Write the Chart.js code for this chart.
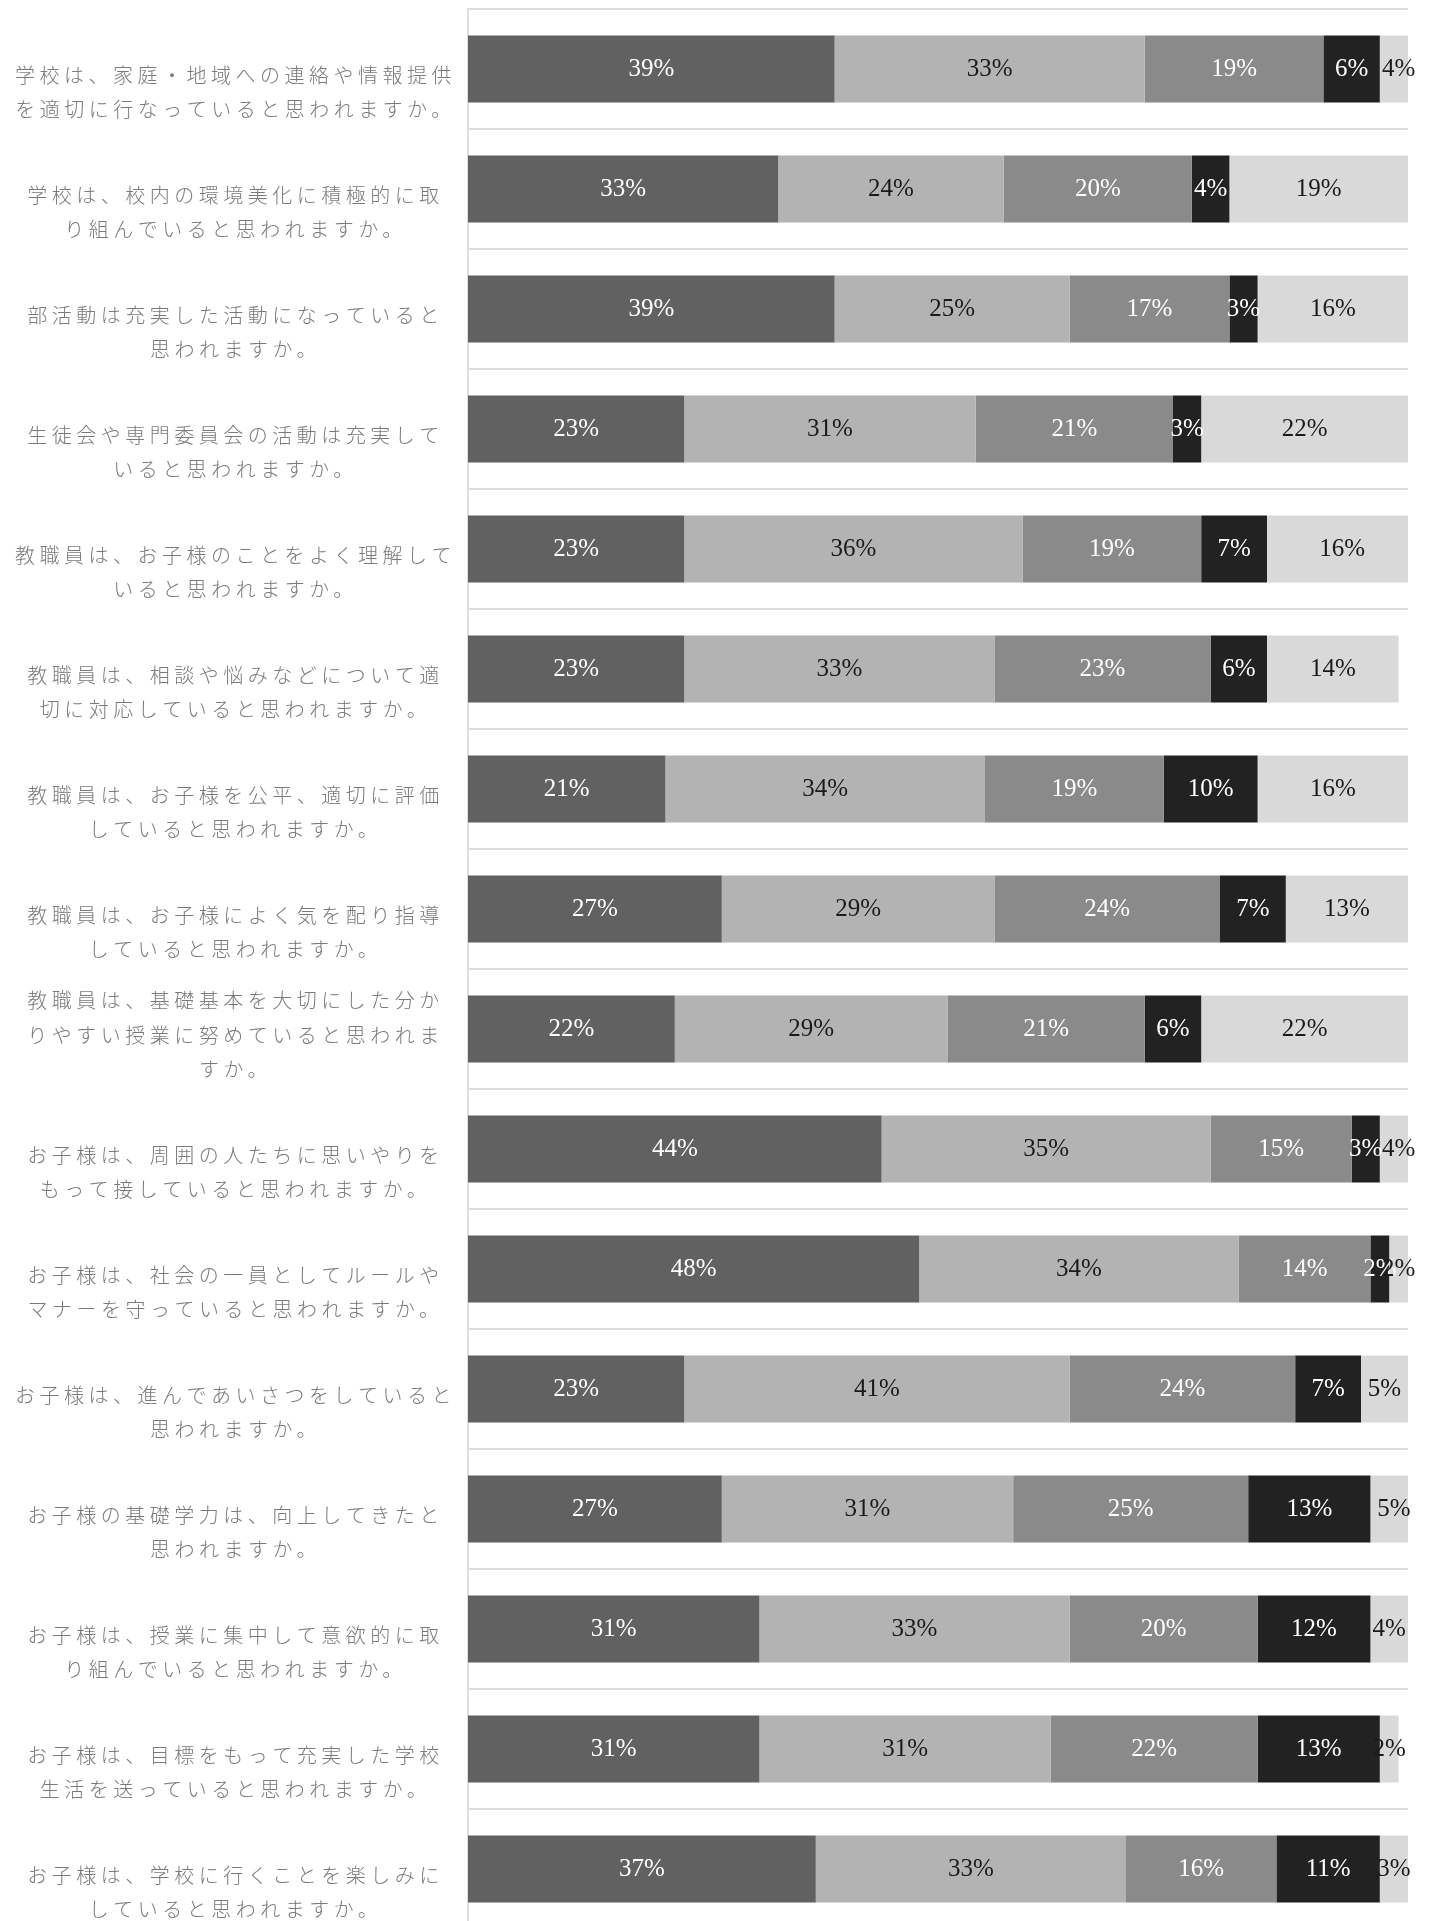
<!DOCTYPE html>
<html lang="ja">
<head>
<meta charset="utf-8">
<title>アンケート結果</title>
<script src="https://cdn.jsdelivr.net/npm/chart.js@4/dist/chart.umd.min.js"></script>
<style>
  html, body { margin: 0; padding: 0; background: #fff; overflow: hidden; }
  #clip { width: 1433px; height: 1921px; overflow: hidden; }
  #wrap { position: relative; width: 1433px; height: 1940px; }
</style>
</head>
<body>
<div id="clip"><div id="wrap"><canvas id="chartSurvey"></canvas></div></div>
<script>
// 設問（改行位置は元の図に合わせる）
const questions = [
  ['学校は、家庭・地域への連絡や情報提供', 'を適切に行なっていると思われますか。'],
  ['学校は、校内の環境美化に積極的に取', 'り組んでいると思われますか。'],
  ['部活動は充実した活動になっていると', '思われますか。'],
  ['生徒会や専門委員会の活動は充実して', 'いると思われますか。'],
  ['教職員は、お子様のことをよく理解して', 'いると思われますか。'],
  ['教職員は、相談や悩みなどについて適', '切に対応していると思われますか。'],
  ['教職員は、お子様を公平、適切に評価', 'していると思われますか。'],
  ['教職員は、お子様によく気を配り指導', 'していると思われますか。'],
  ['教職員は、基礎基本を大切にした分か', 'りやすい授業に努めていると思われま', 'すか。'],
  ['お子様は、周囲の人たちに思いやりを', 'もって接していると思われますか。'],
  ['お子様は、社会の一員としてルールや', 'マナーを守っていると思われますか。'],
  ['お子様は、進んであいさつをしていると', '思われますか。'],
  ['お子様の基礎学力は、向上してきたと', '思われますか。'],
  ['お子様は、授業に集中して意欲的に取', 'り組んでいると思われますか。'],
  ['お子様は、目標をもって充実した学校', '生活を送っていると思われますか。'],
  ['お子様は、学校に行くことを楽しみに', 'していると思われますか。']
];

// 回答の割合（%）
const answer1 = [39, 33, 39, 23, 23, 23, 21, 27, 22, 44, 48, 23, 27, 31, 31, 37];
const answer2 = [33, 24, 25, 31, 36, 33, 34, 29, 29, 35, 34, 41, 31, 33, 31, 33];
const answer3 = [19, 20, 17, 21, 19, 23, 19, 24, 21, 15, 14, 24, 25, 20, 22, 16];
const answer4 = [6, 4, 3, 3, 7, 6, 10, 7, 6, 3, 2, 7, 13, 12, 13, 11];
const answer5 = [4, 19, 16, 22, 16, 14, 16, 13, 22, 4, 2, 5, 5, 4, 2, 3];

const seriesNames = ['回答1', '回答2', '回答3', '回答4', '回答5'];
const barColors  = ['#616161', '#b3b3b3', '#8a8a8a', '#222222', '#d9d9d9'];
const textColors = ['#ffffff', '#1a1a1a', '#ffffff', '#ffffff', '#1a1a1a'];

const $ = (id) => document.getElementById(id);

// 設問ラベルの字間（canvas の letterSpacing）
const spacing = {
  id: 'spacing',
  beforeLayout: (c) => { c.ctx.letterSpacing = '4.5px'; },
  beforeDraw: (c) => { c.ctx.letterSpacing = '4.5px'; }
};

// 棒の中央に % を描く
const pctLabels = {
  id: 'pctLabels',
  afterDatasetsDraw(c) {
    const ctx = c.ctx;
    ctx.save();
    ctx.letterSpacing = '0px';
    ctx.font = '25px "Liberation Serif", "Times New Roman", serif';
    ctx.textAlign = 'center';
    ctx.textBaseline = 'middle';
    c.data.datasets.forEach((ds, di) => {
      ctx.fillStyle = textColors[di];
      c.getDatasetMeta(di).data.forEach((bar, i) => {
        const v = ds.data[i];
        if (!v) return;
        ctx.fillText(v + '%', (bar.x + bar.base) / 2, bar.y);
      });
    });
    ctx.restore();
  }
};

document.addEventListener('DOMContentLoaded', () => {
  const series = [answer1, answer2, answer3, answer4, answer5];
  new Chart($('chartSurvey'), {
    type: 'bar',
    data: {
      labels: questions,
      datasets: series.map((d, i) => ({
        label: seriesNames[i],
        data: d,
        backgroundColor: barColors[i],
        borderWidth: 0,
        categoryPercentage: 1,
        barPercentage: 0.56
      }))
    },
    options: {
      indexAxis: 'y',
      responsive: true,
      maintainAspectRatio: false,
      animation: false,
      events: [],
      layout: { padding: { top: 9, bottom: 11, left: 0, right: 25 } },
      plugins: { legend: { display: false }, tooltip: { enabled: false } },
      scales: {
        x: { stacked: true, min: 0, max: 100, display: false },
        y: {
          stacked: true,
          // 軸の幅は固定、ラベルの高さで上下に余白を取らせない
          afterFit: (s) => { s.width = 468; s.paddingTop = 0; s.paddingBottom = 0; },
          grid: { color: '#dedede', lineWidth: 2, drawTicks: false, offset: true },
          border: { display: true, color: '#dedede', width: 2 },
          ticks: {
            crossAlign: 'center',
            padding: 12,
            labelOffset: 6,
            color: '#7a7a7a',
            font: { family: '"Noto Sans CJK JP", "Noto Sans", sans-serif', size: 20, weight: 300, lineHeight: 1.72 },
            // 2行の設問は上に空行を足して3行分の位置に揃える
            callback: (v, i) => questions[i].length < 3 ? ['', ...questions[i]] : questions[i]
          }
        }
      }
    },
    plugins: [spacing, pctLabels]
  });
});
</script>
</body>
</html>
